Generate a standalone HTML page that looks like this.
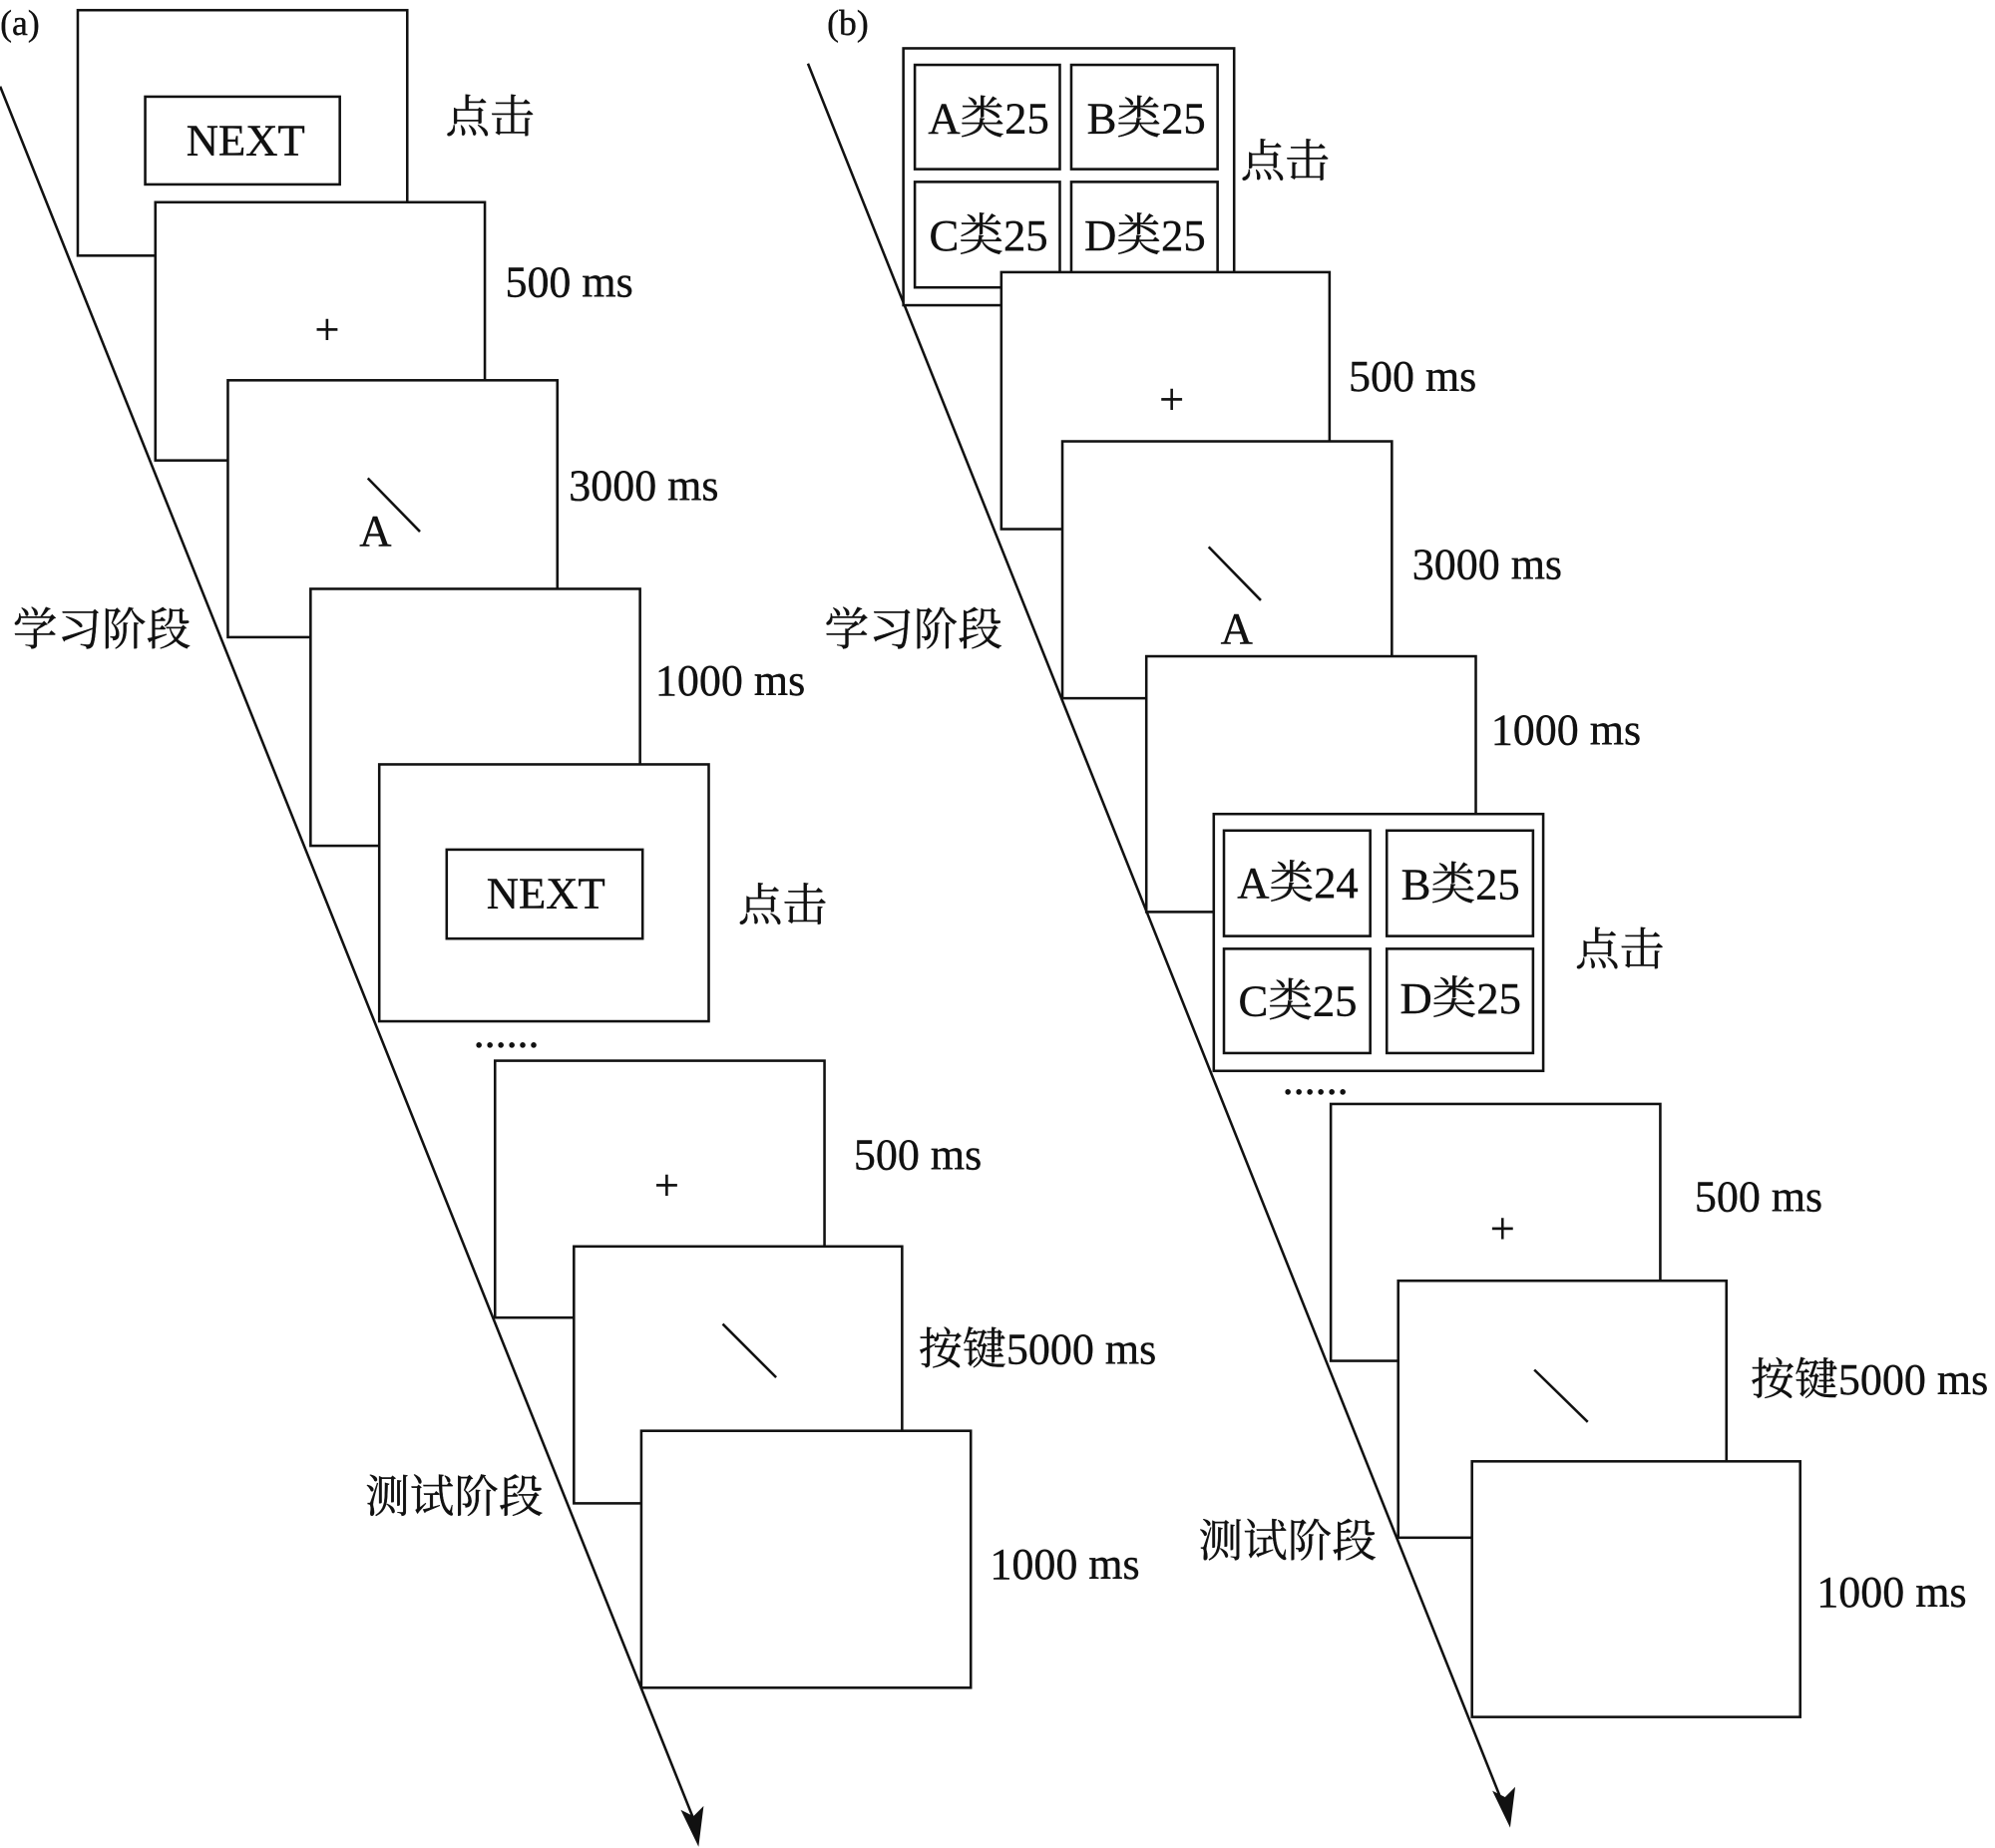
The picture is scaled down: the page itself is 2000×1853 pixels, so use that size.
<!DOCTYPE html>
<html><head><meta charset="utf-8"><style>
html,body{margin:0;padding:0;background:#fff;}
svg{display:block;}
text{font-family:"Liberation Serif","Noto Serif CJK SC",serif;font-size:34.5px;fill:#111;stroke:#111;stroke-width:0.3px;}
.c{text-anchor:middle;}
.b{font-size:35px;}
.z{font-size:35px;}
</style></head><body>
<svg width="2000" height="1853" viewBox="0 0 1568 1453" xmlns="http://www.w3.org/2000/svg">
<g stroke="#111" stroke-width="2" fill="none">
<line x1="0" y1="68" x2="545" y2="1430"/>
<line x1="635" y1="50" x2="1182" y2="1420"/>
</g>
<polygon points="549,1452 535,1423 545,1428 553,1420" fill="#111"/>
<polygon points="1187,1437 1173,1408 1183,1413 1191,1405" fill="#111"/>
<g stroke="#111" stroke-width="2" fill="#fff">
<rect x="61" y="8" width="259" height="193"/>
<rect x="114" y="76" width="153" height="69"/>
<rect x="122" y="159" width="259" height="203"/>
<rect x="179" y="299" width="259" height="202"/>
<rect x="244" y="463" width="259" height="202"/>
<rect x="298" y="601" width="259" height="202"/>
<rect x="351" y="668" width="154" height="70"/>
<rect x="389" y="834" width="259" height="202"/>
<rect x="451" y="980" width="258" height="202"/>
<rect x="504" y="1125" width="259" height="202"/>

<rect x="710" y="38" width="260" height="202"/>
<rect x="719" y="51" width="114" height="82"/>
<rect x="842" y="51" width="115" height="82"/>
<rect x="719" y="143" width="114" height="83"/>
<rect x="842" y="143" width="115" height="83"/>
<rect x="787" y="214" width="258" height="202"/>
<rect x="835" y="347" width="259" height="202"/>
<rect x="901" y="516" width="259" height="201"/>
<rect x="954" y="640" width="259" height="202"/>
<rect x="962" y="653" width="115" height="83"/>
<rect x="1090" y="653" width="115" height="83"/>
<rect x="962" y="746" width="115" height="82"/>
<rect x="1090" y="746" width="115" height="82"/>
<rect x="1046" y="868" width="259" height="202"/>
<rect x="1099" y="1007" width="258" height="202"/>
<rect x="1157" y="1149" width="258" height="201"/>
</g>
<g stroke="#111" stroke-width="2">
<line x1="289" y1="376" x2="330" y2="418"/>
<line x1="568" y1="1041" x2="610" y2="1083"/>
<line x1="950" y1="430" x2="991" y2="472"/>
<line x1="1206" y1="1077" x2="1248" y2="1118"/>
</g>
<g dominant-baseline="central">
<text x="0" y="18" style="font-size:28px">(a)</text>
<text x="650" y="18" style="font-size:28px">(b)</text>
<text class="c b" x="193" y="110">NEXT</text>
<text class="z" x="350" y="92">点击</text>
<text class="c" x="257" y="259">+</text>
<text x="397" y="222">500 ms</text>
<text class="c b" x="295" y="417">A</text>
<text x="447" y="382">3000 ms</text>
<text x="515" y="535">1000 ms</text>
<text class="c b" x="429" y="702">NEXT</text>
<text class="z" x="580" y="712">点击</text>
<text x="372" y="812">......</text>
<text class="c" x="524" y="932">+</text>
<text x="671" y="908">500 ms</text>
<text x="722" y="1061">按键5000 ms</text>
<text x="778" y="1230">1000 ms</text>
<text class="z" x="10" y="495">学习阶段</text>
<text class="z" x="287" y="1177">测试阶段</text>

<text class="c b" x="777" y="93">A类25</text>
<text class="c b" x="901" y="93">B类25</text>
<text class="c b" x="777" y="185">C类25</text>
<text class="c b" x="900" y="185">D类25</text>
<text class="z" x="975" y="127">点击</text>
<text class="c" x="921" y="314">+</text>
<text x="1060" y="296">500 ms</text>
<text class="c b" x="972" y="494">A</text>
<text x="1110" y="444">3000 ms</text>
<text x="1172" y="574">1000 ms</text>
<text class="c b" x="1020" y="694">A类24</text>
<text class="c b" x="1148" y="695">B类25</text>
<text class="c b" x="1020" y="787">C类25</text>
<text class="c b" x="1148" y="785">D类25</text>
<text class="z" x="1238" y="747">点击</text>
<text x="1008" y="849">......</text>
<text class="c" x="1181" y="966">+</text>
<text x="1332" y="941">500 ms</text>
<text x="1376" y="1085">按键5000 ms</text>
<text x="1428" y="1252">1000 ms</text>
<text class="z" x="648" y="495">学习阶段</text>
<text class="z" x="942" y="1212">测试阶段</text>
</g>
</svg>
</body></html>
